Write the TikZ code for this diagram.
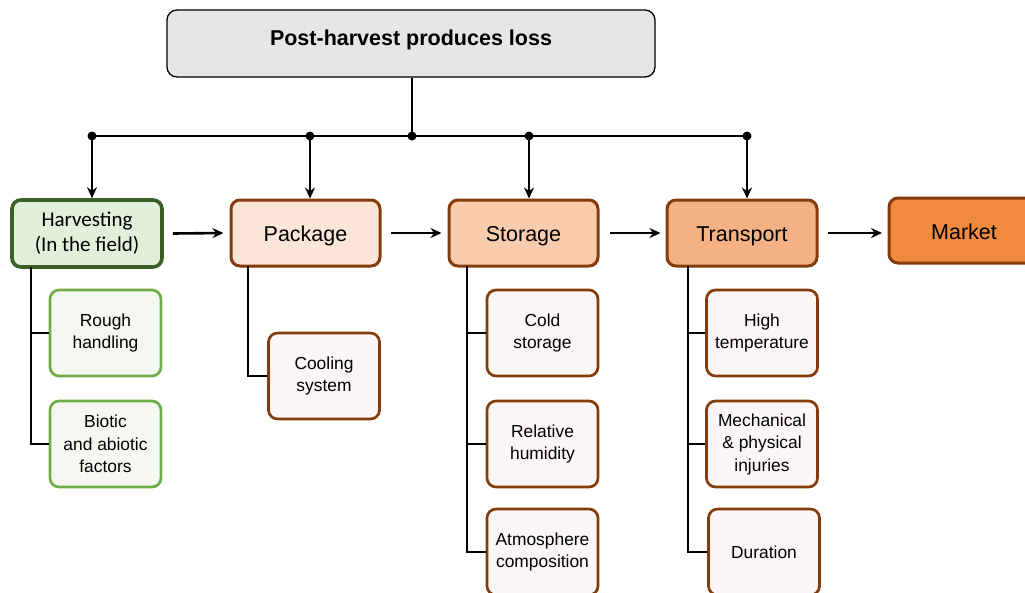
\documentclass[tikz,border=0pt]{standalone}
\usepackage{fontspec}
\setmainfont{Liberation Sans}
\newfontfamily\calibri{Carlito}
\usetikzlibrary{arrows.meta}
\definecolor{topfill}{HTML}{E6E6E6}
\definecolor{harvfill}{HTML}{E2EFDA}
\definecolor{harvdraw}{HTML}{3B5E27}
\definecolor{greendraw}{HTML}{70AD47}
\definecolor{greenfill}{HTML}{F5F8F2}
\definecolor{browndraw}{HTML}{843C0C}
\definecolor{packfill}{HTML}{FBE5D6}
\definecolor{storfill}{HTML}{F8CBAD}
\definecolor{transfill}{HTML}{F4B183}
\definecolor{marketfill}{HTML}{EF8A3E}
\definecolor{subfill}{HTML}{FAF6F5}
\newcommand{\lowered}[1]{\raisebox{-3pt}[\height][\depth]{#1}}
\begin{document}
\begin{tikzpicture}[x=1pt,y=-1pt,
  mainbox/.style={rounded corners=9pt, line width=3pt, draw=browndraw, minimum width=149pt, minimum height=66pt, inner sep=0pt, align=center, font=\fontsize{21.5}{25}\selectfont},
  subbox/.style={rounded corners=9pt, line width=2.7pt, draw=browndraw, fill=subfill, minimum width=111pt, minimum height=86pt, inner sep=0pt, align=center, font=\fontsize{17.4}{22.5}\selectfont},
  greenbox/.style={subbox, draw=greendraw, fill=greenfill},
  conn/.style={line width=2.6pt, black},
  arr/.style={conn, -{Stealth[length=11pt,width=10pt]}},
  dot/.style={circle, fill=black, inner sep=0pt, minimum size=9pt}
]
\useasboundingbox (0,0) rectangle (1025,592);
\clip (0,0) rectangle (1025,592);
\fill[white] (0,0) rectangle (1025,592);

% top
\node[rounded corners=10pt, draw, line width=1.3pt, fill=topfill, minimum width=488pt, minimum height=67pt, inner sep=0pt, font=\fontsize{21.5}{25}\selectfont\bfseries] (top) at (411,43.5) {\raisebox{4pt}[\height][\depth]{Post-harvest produces loss}};

% main row
\node[mainbox, draw=harvdraw, fill=harvfill, line width=3.6pt, minimum width=150pt, minimum height=67pt, font=\calibri\fontsize{21}{25}\selectfont] (harv) at (87,233.5) {Harvesting\\(In the field)};
\node[mainbox, fill=packfill] (pack) at (305.5,233) {\lowered{Package}};
\node[mainbox, fill=storfill] (stor) at (523.5,233) {\lowered{Storage}};
\node[mainbox, fill=transfill, minimum width=150pt] (trans) at (742,233) {\lowered{Transport}};
\node[mainbox, fill=marketfill, minimum width=150pt, minimum height=65pt] (market) at (964,230.5) {};
\node[font=\fontsize{21.5}{25}\selectfont] (markettext) at (964,231.5) {Market};

% bus
\coordinate (d1) at (92,136);
\coordinate (d2) at (310,136);
\coordinate (d3) at (412,136);
\coordinate (d4) at (529,136);
\coordinate (d5) at (747,136);
\draw[conn] (top.south -| d3) -- (d3);
\draw[conn] (d1) -- (d5);
\foreach \d in {d1,d2,d3,d4,d5} \node[dot] at (\d) {};
\draw[arr] (d1) -- (d1 |- harv.north);
\draw[arr] (d2) -- (d2 |- pack.north);
\draw[arr] (d4) -- (d4 |- stor.north);
\draw[arr] (d5) -- (d5 |- trans.north);

% horizontal arrows
\draw[arr] ([xshift=9pt]harv.east) -- ([xshift=-6pt]pack.west);
\draw[arr] ([xshift=9pt]pack.east) -- ([xshift=-6pt]stor.west);
\draw[arr] ([xshift=10pt]stor.east) -- ([xshift=-5pt]trans.west);
\draw[arr] ([xshift=9pt]trans.east |- 0,233) -- (882,233);

% sub boxes
\node[greenbox] (rough) at (105.5,333) {Rough\\handling};
\node[greenbox] (biotic) at (105.5,444) {Biotic\\and abiotic\\factors};
\node[subbox] (cool) at (324,376) {Cooling\\system};
\node[subbox] (cold) at (542.5,333) {Cold\\storage};
\node[subbox] (rel) at (542.5,444) {Relative\\humidity};
\node[subbox] (atm) at (542.5,552) {Atmosphere\\composition};
\node[subbox] (high) at (762,333) {High\\temperature};
\node[subbox] (mech) at (762,444) {Mechanical\\\& physical\\injuries};
\node[subbox] (dur) at (764,552) {Duration};

% trunks
\coordinate (hv) at (31,267);
\draw[conn] (hv) |- (biotic.west);
\draw[conn] (hv |- rough.west) -- (rough.west);
\coordinate (pv) at (248,266);
\draw[conn] (pv) |- (cool.west);
\coordinate (sv) at (467,266);
\draw[conn] (sv) |- (atm.west);
\draw[conn] (sv |- cold.west) -- (cold.west);
\draw[conn] (sv |- rel.west) -- (rel.west);
\coordinate (tv) at (688,266);
\draw[conn] (tv) |- (dur.west);
\draw[conn] (tv |- high.west) -- (high.west);
\draw[conn] (tv |- mech.west) -- (mech.west);
\end{tikzpicture}
\end{document}
